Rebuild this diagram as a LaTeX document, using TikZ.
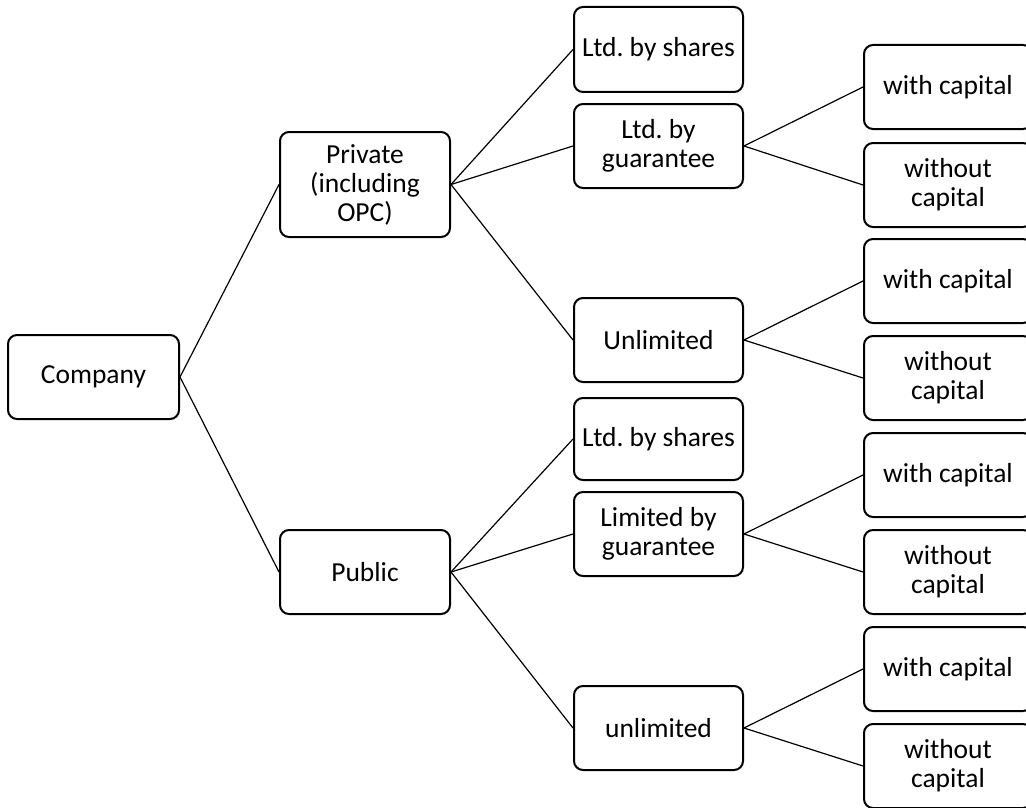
\documentclass[tikz,border=0pt]{standalone}
\usepackage{fontspec}
\setmainfont{Carlito}
\frenchspacing
\begin{document}
\begin{tikzpicture}[x=1pt,y=-1pt,
  box/.style={draw=black, line width=2pt, rounded corners=9pt, align=center,
    inner sep=2pt, font=\fontsize{27.5}{29}\selectfont,
    minimum width=169pt, minimum height=84pt},
  link/.style={draw=black, line width=1.2pt}]
\useasboundingbox (0,0) rectangle (1026,808);

% root and first level
\node[box, minimum width=171pt] (company) at (93.5,377) {Company};
\node[box, minimum width=170pt, minimum height=105pt] (private) at (365,184.5) {Private\\(including\\OPC)};
\node[box, minimum width=170pt] (public) at (365,572) {Public};

% second level
\node[box, minimum height=85pt] (pshares) at (658.5,49.5) {Ltd. by shares};
\node[box] (pguar) at (658.5,146) {Ltd. by\\guarantee};
\node[box] (punl) at (658.5,340) {Unlimited};
\node[box, minimum height=82pt] (ushares) at (658.5,439) {Ltd. by shares};
\node[box] (uguar) at (658.5,534) {Limited by\\guarantee};
\node[box] (uunl) at (658.5,728) {unlimited};

% third level
\node[box, minimum width=168pt] (pgw)  at (948,87)  {with capital};
\node[box, minimum width=168pt] (pgwo) at (948,185) {without\\capital};
\node[box, minimum width=168pt] (puw)  at (948,281) {with capital};
\node[box, minimum width=168pt] (puwo) at (948,378) {without\\capital};
\node[box, minimum width=168pt] (ugw)  at (948,475) {with capital};
\node[box, minimum width=168pt] (ugwo) at (948,572) {without\\capital};
\node[box, minimum width=168pt] (uuw)  at (948,669) {with capital};
\node[box, minimum width=168pt] (uuwo) at (948,766) {without\\capital};

% connectors
\draw[link] (company.east) -- (private.west);
\draw[link] (company.east) -- (public.west);
\draw[link] (private.east) -- (pshares.west);
\draw[link] (private.east) -- (pguar.west);
\draw[link] (private.east) -- (punl.west);
\draw[link] (public.east) -- (ushares.west);
\draw[link] (public.east) -- (uguar.west);
\draw[link] (public.east) -- (uunl.west);
\draw[link] (pguar.east) -- (pgw.west);
\draw[link] (pguar.east) -- (pgwo.west);
\draw[link] (punl.east) -- (puw.west);
\draw[link] (punl.east) -- (puwo.west);
\draw[link] (uguar.east) -- (ugw.west);
\draw[link] (uguar.east) -- (ugwo.west);
\draw[link] (uunl.east) -- (uuw.west);
\draw[link] (uunl.east) -- (uuwo.west);
\end{tikzpicture}
\end{document}
